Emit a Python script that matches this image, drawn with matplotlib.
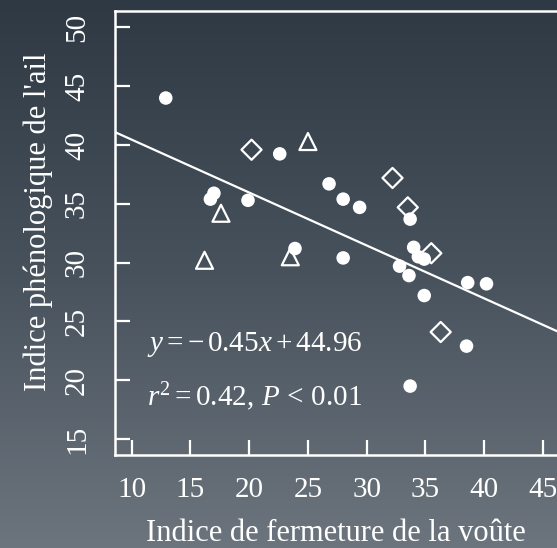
import numpy as np
import matplotlib
matplotlib.use("Agg")
import matplotlib.pyplot as plt
from matplotlib.colors import LinearSegmentedColormap

# Canopy closure index vs garlic phenology index, by group
circle_x = [12.9, 22.6, 26.8, 28.0, 29.4, 17.0, 16.7, 19.9, 33.7, 23.9, 28.0,
            34.0, 34.4, 34.9, 32.8, 33.6, 38.6, 40.2, 34.9, 38.5, 33.7]
circle_y = [44.0, 39.25, 36.7, 35.4, 34.7, 35.9, 35.4, 35.3, 33.7, 31.2, 30.4,
            31.3, 30.5, 30.3, 29.7, 28.9, 28.3, 28.2, 27.2, 22.9, 19.5]
diamond_x = [20.2, 32.2, 33.5, 35.5, 36.3]
diamond_y = [39.6, 37.2, 34.7, 30.8, 24.1]
triangle_x = [25.0, 17.6, 16.2, 23.5]
triangle_y = [40.3, 34.2, 30.2, 30.5]

slope = -0.45
intercept = 44.96
r2 = 0.42

xticks = [10, 15, 20, 25, 30, 35, 40, 45]
yticks = [15, 20, 25, 30, 35, 40, 45, 50]

plt.rcParams['font.family'] = 'Liberation Serif'
plt.rcParams['mathtext.fontset'] = 'custom'
plt.rcParams['mathtext.rm'] = 'Liberation Serif'
plt.rcParams['mathtext.it'] = 'Liberation Serif:italic'

fig = plt.figure(figsize=(5.57, 5.48), dpi=100)

# vertical gradient background
bg = fig.add_axes([0, 0, 1, 1], zorder=-1)
grad_cmap = LinearSegmentedColormap.from_list('bg', ['#2e3943', '#48525c', '#6c757e'])
bg.imshow(np.linspace(0, 1, 256).reshape(-1, 1), aspect='auto', cmap=grad_cmap,
          extent=[0, 1, 0, 1], origin='upper')
bg.axis('off')

ax = fig.add_axes([115 / 557, 1 - 455 / 548, 1 - 115 / 557, 444 / 548])
ax.patch.set_alpha(0)

ax.scatter(circle_x, circle_y, s=95, color='white', edgecolors='none', zorder=3)
ax.scatter(diamond_x, diamond_y, marker='D', s=105, facecolors='none',
           edgecolors='white', linewidths=1.6, zorder=3)
ax.scatter(triangle_x, triangle_y, marker='^', s=150, facecolors='none',
           edgecolors='white', linewidths=1.6, zorder=3)

xlim = (8.58, 46.2)
xs = np.array(xlim)
ax.plot(xs, slope * xs + intercept, color='white', lw=1.6, zorder=2)

ax.set_xlim(*xlim)
ax.set_ylim(13.64, 51.4)
ax.set_xticks(xticks)
ax.set_yticks(yticks)

for side in ['left', 'bottom', 'top']:
    ax.spines[side].set_color('white')
    ax.spines[side].set_linewidth(1.8)
ax.spines['right'].set_visible(False)

ax.tick_params(direction='in', length=11, width=1.6, colors='white',
               labelsize=21, pad=15.5)
ax.tick_params(axis='y', pad=18)
for lbl in ax.get_yticklabels():
    lbl.set_rotation(90)
    lbl.set_va('center')

ax.set_xlabel("Indice de fermeture de la voûte", color='white', fontsize=22, labelpad=12)
ax.set_ylabel("Indice phénologique de l'ail", color='white', fontsize=22)
ax.yaxis.set_label_coords(-0.141, 0.525)

ax.text(0.072, 0.248, r"$y = -\,0.45x + 44.96$", transform=ax.transAxes,
        color='white', fontsize=21, va='center')
ax.text(0.072, 0.131, r"$r^2 = 0.42,\, P\, <\, 0.01$", transform=ax.transAxes,
        color='white', fontsize=21, va='center')

fig.savefig('out.png', dpi=100)
